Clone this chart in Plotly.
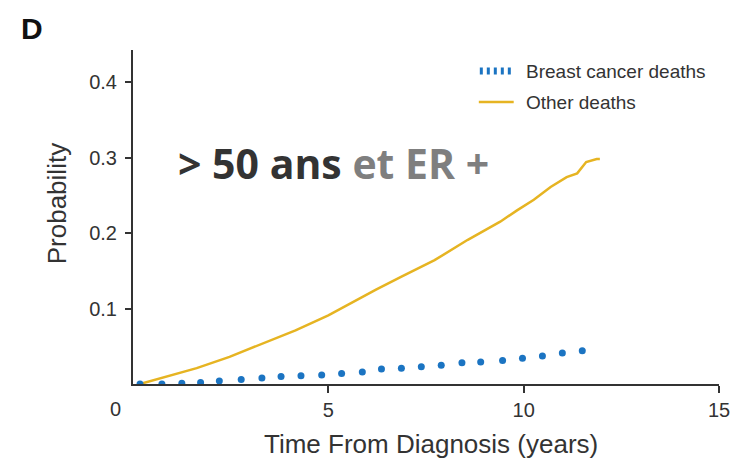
import plotly.graph_objects as go

# Cumulative incidence curves (years since diagnosis vs probability)
other_t = [0.18, 0.76, 1.63, 2.47, 3.30, 4.16, 5.00, 5.84, 6.22, 6.86, 7.72, 8.57,
           9.40, 9.83, 10.26, 10.69, 11.10, 11.37, 11.60, 11.87, 11.95]
other_p = [0.000, 0.008, 0.021, 0.036, 0.053, 0.071, 0.091, 0.115, 0.125, 0.142, 0.164, 0.191,
           0.215, 0.230, 0.244, 0.261, 0.274, 0.279, 0.294, 0.298, 0.298]

breast_t = [0.18, 0.74, 1.25, 1.73, 2.21, 2.77, 3.30, 3.79, 4.30, 4.83, 5.34, 5.87,
            6.36, 6.87, 7.38, 7.89, 8.42, 8.90, 9.46, 9.97, 10.48, 10.99, 11.50]
breast_p = [0.000, 0.000, 0.001, 0.002, 0.004, 0.006, 0.008, 0.010, 0.011, 0.012, 0.014, 0.016,
            0.020, 0.021, 0.023, 0.025, 0.028, 0.029, 0.031, 0.034, 0.037, 0.041, 0.044]

x_ticks = [5, 10, 15]
y_ticks = [0.1, 0.2, 0.3, 0.4]
y_tick_text = ["0.1", "0.2", "0.3", "0.4"]
series_names = ["Breast cancer deaths", "Other deaths"]

BLUE = "#1b74c2"
GOLD = "#e6b422"
INK = "#333333"
SANS = "Arial, 'Liberation Sans', sans-serif"

# plot area in pixels (used to place decorations in paper coordinates)
L, R, T, B = 133, 21, 50, 81
W, H = 742, 465
PW, PH = W - L - R, H - T - B


def px(xpix):
    return (xpix - L) / PW


def py(ypix):
    return (H - B - ypix) / PH


fig = go.Figure()
fig.add_trace(go.Scatter(
    x=other_t, y=other_p, mode="lines", name=series_names[1],
    line=dict(color=GOLD, width=2.5), showlegend=False))
fig.add_trace(go.Scatter(
    x=breast_t, y=breast_p, mode="markers", name=series_names[0],
    marker=dict(color=BLUE, size=7, symbol="circle"), showlegend=False))

axis_font = dict(family=SANS, size=20, color=INK)
title_font = dict(family=SANS, size=26, color=INK)

fig.update_layout(
    width=W, height=H,
    margin=dict(l=L, r=R, t=T, b=B),
    paper_bgcolor="white", plot_bgcolor="white",
    xaxis=dict(range=[0, 15], tickvals=x_ticks, ticktext=[str(v) for v in x_ticks],
               showgrid=False, zeroline=False, showline=True, linecolor=INK, linewidth=2,
               ticks="outside", ticklen=7, tickwidth=2, tickcolor=INK,
               tickfont=axis_font),
    yaxis=dict(range=[0, 0.4424], tickvals=y_ticks, ticktext=y_tick_text,
               showgrid=False, zeroline=False, showline=True, linecolor=INK, linewidth=2,
               ticks="outside", ticklen=6, tickwidth=2, tickcolor=INK,
               tickfont=axis_font, ticklabelstandoff=4),
)

# axis titles
fig.add_annotation(x=px(432), y=py(444), xref="paper", yref="paper",
                   text="Time From Diagnosis (years)", showarrow=False,
                   xanchor="center", yanchor="middle", font=title_font)
fig.add_annotation(x=px(57), y=py(204), xref="paper", yref="paper", text="Probability",
                   textangle=-90, showarrow=False, xanchor="center", yanchor="middle",
                   font=title_font)

# shared origin label
fig.add_annotation(x=0, y=0, xref="x", yref="y", text="0", showarrow=False,
                   xanchor="right", yanchor="top", xshift=-10, yshift=-12,
                   font=axis_font)

# panel letter
fig.add_annotation(x=px(19), y=py(10), xref="paper", yref="paper", text="<b>D</b>",
                   showarrow=False, xanchor="left", yanchor="top",
                   font=dict(family=SANS, size=30, color="#111111"))

# subgroup caption
fig.add_annotation(x=px(176), y=py(163), xref="paper", yref="paper",
                   text=f"<b><span style='color:{INK}'>&gt; 50 ans</span> "
                        f"<span style='color:#7f7f7f'>et ER +</span></b>",
                   showarrow=False, xanchor="left", yanchor="middle",
                   font=dict(family="'Open Sans', sans-serif", size=41))

# legend
legend_font = dict(family=SANS, size=19, color=INK)
fig.add_shape(type="line", xref="paper", yref="paper",
              x0=px(481), x1=px(515), y0=py(71), y1=py(71),
              line=dict(color=BLUE, width=7, dash="3px,4px"))
fig.add_shape(type="line", xref="paper", yref="paper",
              x0=px(480), x1=px(515), y0=py(102), y1=py(102),
              line=dict(color=GOLD, width=2.5))
for name, ypix in zip(series_names, [71, 102]):
    fig.add_annotation(x=px(525), y=py(ypix), xref="paper", yref="paper",
                       text=name, showarrow=False, xanchor="left", yanchor="middle",
                       font=legend_font)

fig.write_html("out.html")
